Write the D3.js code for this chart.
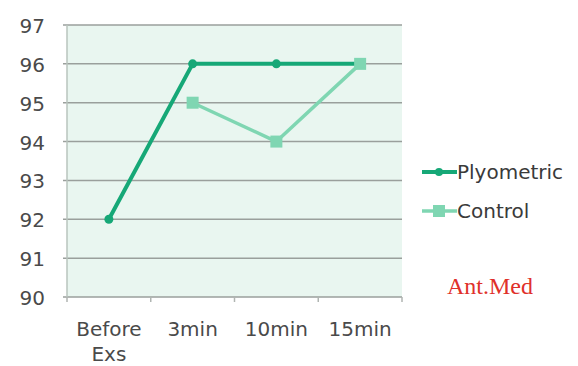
<!DOCTYPE html>
<html><head><meta charset="utf-8">
<script src="https://cdn.jsdelivr.net/npm/d3@7"></script>
<style>body{margin:0;background:#fff}svg{display:block}</style>
</head><body>
<svg id="c" width="578" height="366"></svg>
<script>
const categories = ["Before Exs", "3min", "10min", "15min"];
const plyometric = [92, 96, 96, 96];
const control = [null, 95, 94, 96];
const yTicks = [90, 91, 92, 93, 94, 95, 96, 97];
const seriesNames = ["Plyometric", "Control"];

const svg = d3.select("#c");
const m = {l: 67, r: 402, t: 25, b: 297};
const x = d3.scaleBand().domain(categories).range([m.l, m.r]);
const y = d3.scaleLinear().domain([90, 97]).range([m.b, m.t]);
const font = "'DejaVu Sans', sans-serif";

svg.append("rect").attr("x", m.l).attr("y", m.t).attr("width", m.r - m.l).attr("height", m.b - m.t)
  .attr("fill", "#e9f6f0");

svg.append("g").selectAll("line").data(yTicks).join("line")
  .attr("x1", m.l - 4).attr("x2", m.r).attr("y1", d => y(d)).attr("y2", d => y(d))
  .attr("stroke", "#9a9f9c").attr("stroke-width", 1.5);

svg.append("line").attr("x1", m.l).attr("x2", m.l).attr("y1", m.t).attr("y2", m.b)
  .attr("stroke", "#b8c4be").attr("stroke-width", 1.5);

const xb = categories.map((c, i) => m.l + i * x.bandwidth());
svg.append("g").selectAll("line").data(xb.concat([m.r])).join("line")
  .attr("x1", d => d).attr("x2", d => d).attr("y1", m.b).attr("y2", m.b + 5)
  .attr("stroke", "#b0b5b2").attr("stroke-width", 1.5);

svg.append("g").selectAll("text").data(yTicks).join("text")
  .attr("x", 45).attr("y", d => y(d) + 8).attr("text-anchor", "end")
  .attr("font-family", font).attr("font-size", 20).attr("fill", "#4a4a4a")
  .text(d => d);

const xl = svg.append("g").selectAll("text").data(categories).join("text")
  .attr("x", d => x(d) + x.bandwidth() / 2).attr("y", 336).attr("text-anchor", "middle")
  .attr("font-family", font).attr("font-size", 20).attr("fill", "#4a4a4a");
xl.each(function(d) {
  const parts = d.split(" ");
  d3.select(this).selectAll("tspan").data(parts).join("tspan")
    .attr("x", x(d) + x.bandwidth() / 2).attr("dy", (p, i) => i ? 25 : 0).text(p => p);
});

const cx = i => x(categories[i]) + x.bandwidth() / 2;
const line = d3.line().defined(d => d.v != null).x(d => cx(d.i)).y(d => y(d.v));
const cData = control.map((v, i) => ({v, i}));
const pData = plyometric.map((v, i) => ({v, i}));

const cCol = "#7fd6b2", pCol = "#16a877";
svg.append("path").datum(pData).attr("d", line).attr("fill", "none")
  .attr("stroke", pCol).attr("stroke-width", 4).attr("stroke-linejoin", "round");
svg.append("g").selectAll("circle").data(pData).join("circle")
  .attr("cx", d => cx(d.i)).attr("cy", d => y(d.v)).attr("r", 4.5).attr("fill", pCol);

svg.append("path").datum(cData).attr("d", line).attr("fill", "none")
  .attr("stroke", cCol).attr("stroke-width", 3.5).attr("stroke-linejoin", "round");
svg.append("g").selectAll("rect").data(cData.filter(d => d.v != null)).join("rect")
  .attr("x", d => cx(d.i) - 6).attr("y", d => y(d.v) - 6).attr("width", 12).attr("height", 12)
  .attr("fill", cCol);

const lg = [{n: seriesNames[0], c: pCol, y: 172, w: 4}, {n: seriesNames[1], c: cCol, y: 211, w: 3.5}];
lg.forEach((d, i) => {
  svg.append("line").attr("x1", 422).attr("x2", 457).attr("y1", d.y).attr("y2", d.y)
    .attr("stroke", d.c).attr("stroke-width", d.w);
  if (i === 0) svg.append("circle").attr("cx", 439).attr("cy", d.y).attr("r", 4).attr("fill", d.c);
  else svg.append("rect").attr("x", 433).attr("y", d.y - 6).attr("width", 12).attr("height", 12).attr("fill", d.c);
  svg.append("text").attr("x", 457).attr("y", d.y + 7).attr("font-family", font).attr("font-size", 20)
    .attr("fill", "#3a3a3a").text(d.n);
});

svg.append("text").attr("x", 447).attr("y", 294).attr("font-family", "'Liberation Serif', 'Times New Roman', serif")
  .attr("font-size", 24).attr("fill", "#e0302a").text("Ant.Med");
</script>
</body></html>
